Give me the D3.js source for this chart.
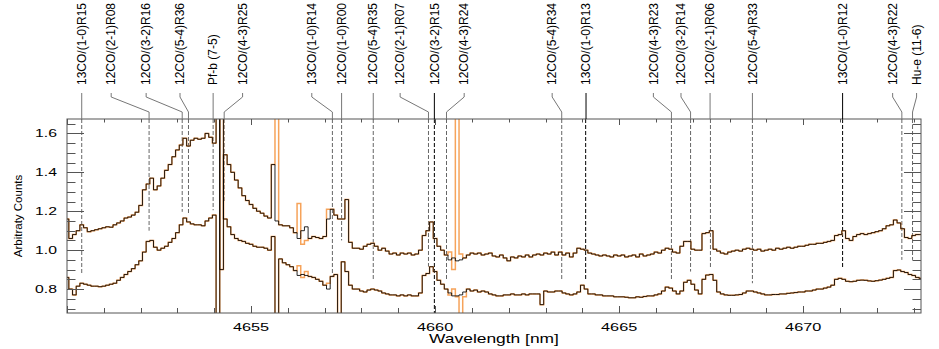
<!DOCTYPE html>
<html><head><meta charset="utf-8">
<script src="https://cdn.jsdelivr.net/npm/d3@7"></script>
<style>body{margin:0;background:#fff}svg{display:block}text{font-family:"Liberation Sans",Arial,sans-serif}</style>
</head><body><svg id="c" width="939" height="349"></svg>
<script>
// ---- data ----
const wlStart = 4650.0, wlStep = 0.1;
const upperSpec = [1.16,1.06,1.08,1.10,1.13,1.115,1.095,1.10,1.105,1.11,
1.115,1.12,1.118,1.13,1.14,1.15,1.165,1.17,1.18,1.195,
1.23,1.31,1.34,1.37,1.31,1.33,1.37,1.41,1.44,1.48,
1.515,1.54,1.575,1.535,1.565,1.575,1.57,1.575,1.60,1.58,
1.55,1.80,0.90,1.49,1.44,1.40,1.36,1.32,1.28,1.255,
1.235,1.215,1.20,1.19,1.175,1.165,1.44,1.15,1.13,1.125,
1.125,1.115,1.09,1.06,1.10,1.12,1.06,1.07,1.065,1.06,
1.07,1.16,1.21,1.18,1.16,1.16,1.26,1.04,1.01,1.01,
1.005,1.02,1.03,1.035,1.02,1.0,1.01,0.995,0.98,0.985,
0.975,0.985,0.98,0.985,0.975,0.98,1.00,1.075,1.10,1.145,
1.06,1.02,1.0,0.975,0.95,0.96,0.945,0.95,0.96,0.975,
0.985,0.98,0.985,0.975,0.98,0.985,0.97,0.965,0.975,0.96,
0.945,0.965,0.96,0.97,0.965,0.975,0.965,0.975,0.98,0.975,
0.985,0.98,0.99,0.975,0.99,0.975,0.985,0.965,0.985,1.01,
1.005,1.0,0.985,0.98,0.975,0.97,0.975,0.97,0.965,0.975,
0.97,0.975,0.965,0.97,0.975,0.965,0.98,0.97,0.975,0.98,
0.99,0.985,1.00,1.01,1.005,0.99,0.985,1.02,1.045,1.045,
1.005,1.0,1.0,1.085,1.09,1.10,1.005,0.995,0.985,0.98,
0.99,0.995,1.0,0.995,1.005,1.01,1.005,1.0,1.005,0.995,
1.0,1.005,1.0,1.01,1.005,1.01,1.015,1.01,1.015,1.02,
1.02,1.025,1.03,1.03,1.035,1.035,1.04,1.045,1.05,1.075,
1.08,1.10,1.06,1.05,1.07,1.08,1.085,1.08,1.085,1.09,
1.095,1.10,1.11,1.125,1.13,1.155,1.14,1.11,1.065,1.06,
1.075,1.08,1.08];
const lowerSpec = [0.86,0.80,0.77,0.815,0.83,0.825,0.82,0.815,0.815,0.812,
0.815,0.82,0.825,0.83,0.845,0.86,0.875,0.89,0.905,0.925,
0.945,0.99,1.045,1.05,1.015,1.0,1.01,1.02,1.04,1.06,
1.09,1.13,1.165,1.145,1.135,1.13,1.13,1.125,1.15,1.165,
1.18,0.6,1.8,1.16,1.12,1.08,1.06,1.05,1.045,1.035,
1.03,1.02,1.015,1.015,1.01,1.0,1.07,0.55,0.955,0.935,
0.925,0.915,0.895,0.87,0.875,0.87,0.865,0.86,0.85,0.84,
0.82,0.80,0.865,0.875,0.55,0.94,0.89,0.82,0.80,0.80,
0.79,0.785,0.795,0.80,0.795,0.79,0.78,0.775,0.77,0.77,
0.765,0.77,0.765,0.77,0.765,0.765,0.78,0.87,0.88,0.915,
0.89,0.845,0.825,0.80,0.78,0.765,0.765,0.77,0.785,0.80,
0.79,0.795,0.785,0.79,0.785,0.775,0.77,0.765,0.765,0.77,
0.77,0.775,0.77,0.77,0.775,0.77,0.775,0.775,0.775,0.72,
0.79,0.785,0.785,0.79,0.79,0.78,0.775,0.77,0.775,0.785,
0.82,0.80,0.775,0.775,0.77,0.77,0.765,0.765,0.765,0.76,
0.76,0.76,0.758,0.755,0.755,0.76,0.758,0.762,0.765,0.765,
0.77,0.775,0.79,0.81,0.805,0.79,0.775,0.79,0.835,0.845,
0.825,0.795,0.775,0.85,0.872,0.875,0.845,0.785,0.775,0.77,
0.768,0.768,0.77,0.772,0.78,0.79,0.79,0.785,0.78,0.775,
0.77,0.77,0.772,0.772,0.775,0.775,0.778,0.78,0.782,0.785,
0.785,0.79,0.79,0.795,0.80,0.80,0.805,0.81,0.82,0.85,
0.855,0.85,0.84,0.838,0.84,0.845,0.846,0.845,0.842,0.84,
0.843,0.846,0.85,0.855,0.86,0.895,0.898,0.89,0.885,0.875,
0.87,0.86,0.855];
// second (orange) exposure: differs from the first only at these samples [index, value]
const upperOrangeDiff = [[57,1.75],[63,1.24],[64,1.03],[65,1.05],[71,1.21],[104,0.99],[105,0.90],[106,1.80],[107,0.98]];
const lowerOrangeDiff = [[63,0.92],[64,0.86],[65,0.89],[71,0.83],[104,0.77],[105,0.80],[106,0.76],[107,0.55],[108,0.76]];

const lineNames = ["13CO/(1-0)R15","12CO/(2-1)R08","12CO/(3-2)R16","12CO/(5-4)R36","Pf-b  (7-5)","12CO/(4-3)R25","13CO/(1-0)R14","12CO/(1-0)R00","12CO/(5-4)R35","12CO/(2-1)R07","12CO/(3-2)R15","12CO/(4-3)R24","12CO/(5-4)R34","13CO/(1-0)R13","12CO/(4-3)R23","12CO/(3-2)R14","12CO/(2-1)R06","12CO/(5-4)R33","13CO/(1-0)R12","12CO/(4-3)R22","Hu-e (11-6)"];
const lineWl = [4650.40,4652.23,4653.13,4653.30,4653.97,4654.27,4657.21,4657.46,4658.32,4659.82,4659.98,4660.31,4663.44,4664.09,4666.42,4666.94,4667.48,4668.62,4671.07,4672.68,4672.97];
const labelWl = [4650.40,4651.20,4652.15,4653.07,4653.97,4654.77,4656.65,4657.46,4658.32,4659.05,4659.98,4660.79,4663.18,4664.10,4665.93,4666.68,4667.47,4668.62,4671.07,4672.43,4673.08];
const lineEnd = [0.88,1.10,1.197,1.19,1.205,1.25,0.87,1.05,0.846,0.915,0.677,0.846,0.846,0.846,0.846,0.89,0.906,0.83,0.906,0.95,0.95];
const lineDark = [false,false,false,false,false,false,false,false,false,false,true,false,false,true,false,false,false,false,true,false,false];

const xTicks = [4650,4655,4660,4665,4670];
const xTickLabels = ["","4655","4660","4665","4670"];
const yTicks = [0.8,1.0,1.2,1.4,1.6];
const yTickLabels = ["0.8","1.0","1.2","1.4","1.6"];
const xTitle = "Wavelength [nm]";
const yTitle = "Arbitraty Counts";

// ---- chart ----
const svg = d3.select("#c");
const L=67, R=921, T=119, B=313;
const x = d3.scaleLinear().domain([4650.0,4673.2]).range([L,R]);
const y = d3.scaleLinear().domain([0.677,1.674]).range([B,T]);

svg.append("defs").append("clipPath").attr("id","clip")
  .append("rect").attr("x",L).attr("y",T).attr("width",R-L).attr("height",B-T);

const toPts = arr => arr.map((v,i)=>({w:wlStart+i*wlStep, v}));
const patch = (arr,diff)=>{const a=arr.slice(); diff.forEach(([i,v])=>a[i]=v); return a;};
const line = d3.line().x(d=>x(d.w)).y(d=>y(d.v)).curve(d3.curveStep);

const plot = svg.append("g").attr("clip-path","url(#clip)");
// dashed marker lines
lineWl.forEach((w,i)=>{
  plot.append("line").attr("x1",x(w)).attr("x2",x(w)).attr("y1",T).attr("y2",y(lineEnd[i]))
    .attr("stroke",lineDark[i]?"#000":"#666").attr("stroke-width",1).attr("stroke-dasharray","4,2");
});
const orangeC = "#f6a35a";
[patch(upperSpec,upperOrangeDiff), patch(lowerSpec,lowerOrangeDiff)].forEach(a=>{
  plot.append("path").attr("d",line(toPts(a))).attr("fill","none").attr("stroke",orangeC).attr("stroke-width",1.5);
});
[upperSpec, lowerSpec].forEach(a=>{
  plot.append("path").attr("d",line(toPts(a))).attr("fill","none").attr("stroke","#000").attr("stroke-opacity",0.85).attr("stroke-width",1);
});

// frame
svg.append("rect").attr("x",L).attr("y",T).attr("width",R-L).attr("height",B-T)
  .attr("fill","none").attr("stroke","#555").attr("stroke-width",1);

// ticks
const ax = svg.append("g").attr("stroke","#555").attr("stroke-width",1);
d3.range(4650,4674,1).forEach(w=>{
  const major = xTicks.includes(w), xx = Math.round(x(w))+0.5;
  ax.append("line").attr("x1",xx).attr("x2",xx).attr("y1",B).attr("y2",B-(major?7:5));
  ax.append("line").attr("x1",xx).attr("x2",xx).attr("y1",T).attr("y2",T+(major?6:3.5));
});
d3.range(14,34,1).map(k=>k*0.05).filter(v=>v>=0.677&&v<=1.674).forEach(v=>{
  const major = yTicks.some(t=>Math.abs(t-v)<1e-6), len = major?17:8.5, yy=Math.round(y(v))+0.5;
  ax.append("line").attr("x1",L).attr("x2",L+len).attr("y1",yy).attr("y2",yy);
  ax.append("line").attr("x1",R).attr("x2",R-len).attr("y1",yy).attr("y2",yy);
});
xTicks.forEach((w,i)=>{
  svg.append("text").attr("transform",`translate(${x(w)},330.5) scale(1.55,1)`)
    .attr("text-anchor","middle").attr("font-size","10.5px").attr("fill","#000").text(xTickLabels[i]);
});
yTicks.forEach((v,i)=>{
  svg.append("text").attr("transform",`translate(57,${y(v)+3.8}) scale(1.5,1)`)
    .attr("text-anchor","end").attr("font-size","10.5px").attr("fill","#000").text(yTickLabels[i]);
});
svg.append("text").attr("transform","translate(494,342.5) scale(1.45,1)").attr("text-anchor","middle")
  .attr("font-size","12px").attr("fill","#000").text(xTitle);
svg.append("text").attr("transform","translate(18,216) rotate(-90)").attr("text-anchor","middle")
  .attr("dy","0.35em").attr("font-size","11.5px").attr("fill","#000").text(yTitle);

// labels and connectors
lineNames.forEach((n,i)=>{
  const lx = x(labelWl[i]), dx = x(lineWl[i]);
  svg.append("text").attr("transform",`translate(${lx},85) rotate(-90)`).attr("dy","0.35em")
    .attr("font-size","12px").attr("fill","#000").text(n);
  const pts = Math.abs(lx-dx)<1 ? [[lx,93],[lx,T]] : [[lx,93],[lx,97],[dx,112],[dx,T]];
  svg.append("polyline").attr("points",pts.map(p=>p.join(",")).join(" "))
    .attr("fill","none").attr("stroke",lineDark[i]?"#000":"#777").attr("stroke-width",1);
});
</script></body></html>
